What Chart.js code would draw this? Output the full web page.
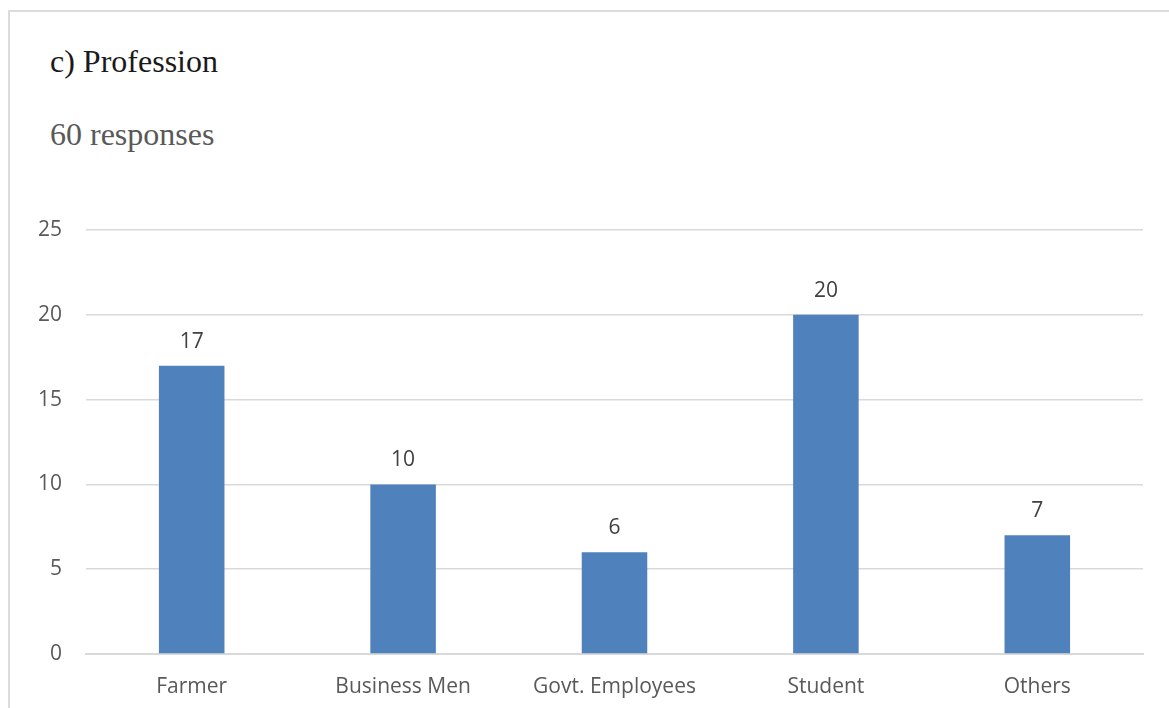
<!DOCTYPE html>
<html>
<head>
<meta charset="utf-8">
<script src="https://cdn.jsdelivr.net/npm/chart.js@4"></script>
<style>
  html, body { margin: 0; padding: 0; background: #fff; width: 1169px; height: 708px; overflow: hidden; }
  #frame { position: absolute; left: 8px; top: 10px; width: 1161px; height: 698px;
           border-top: 2px solid #dcdcdc; border-left: 2px solid #dcdcdc; box-sizing: border-box; }
  .t { position: absolute; left: 50px; font-family: "Liberation Serif", "Times New Roman", serif; white-space: nowrap; line-height: 1.15; }
  #title { top: 43px; font-size: 32px; color: #1a1a1a; }
  #sub { top: 116px; font-size: 32px; color: #595959; }
  #wrap { position: absolute; left: 0; top: 0; width: 1169px; height: 708px; }
</style>
</head>
<body>
<div id="frame"></div>
<div class="t" id="title">c) Profession</div>
<div class="t" id="sub">60 responses</div>
<div id="wrap"><canvas id="c" width="1169" height="708"></canvas></div>
<script>
const categories = ["Farmer", "Business Men", "Govt. Employees", "Student", "Others"];
const responses = [17, 10, 6, 20, 7];
const yTicks = [0, 5, 10, 15, 20, 25];

const FONT = "'Open Sans', Lato, 'Liberation Sans', sans-serif";

const valueLabels = {
  id: 'valueLabels',
  afterDatasetsDraw(chart) {
    const ctx = chart.ctx;
    const meta = chart.getDatasetMeta(0);
    ctx.save();
    ctx.font = "21px " + FONT;
    ctx.fillStyle = "#404040";
    ctx.textAlign = "center";
    ctx.textBaseline = "middle";
    meta.data.forEach((bar, i) => {
      ctx.fillText(String(chart.data.datasets[0].data[i]), bar.x, bar.y - 24);
    });
    ctx.restore();
  }
};

new Chart(document.getElementById('c'), {
  type: 'bar',
  data: {
    labels: categories,
    datasets: [{
      data: responses,
      backgroundColor: '#4F81BD',
      borderWidth: 0,
      categoryPercentage: 1,
      barPercentage: 0.31
    }]
  },
  options: {
    responsive: false,
    animation: false,
    devicePixelRatio: 1,
    layout: { padding: { left: 0, right: 26, top: 230, bottom: 0 } },
    plugins: { legend: { display: false }, tooltip: { enabled: false }, title: { display: false } },
    scales: {
      x: {
        grid: { display: false, drawTicks: false },
        border: { display: true, color: '#d9d9d9', width: 2 },
        ticks: { color: '#595959', font: { family: FONT, size: 21 }, padding: 20 },
        afterFit(s) { s.height = 54; }
      },
      y: {
        min: 0, max: 25,
        afterBuildTicks(s) { s.ticks = yTicks.map(v => ({ value: v })); },
        grid: { color: '#d9d9d9', lineWidth: 1.5, drawTicks: false },
        border: { display: false },
        ticks: { color: '#595959', font: { family: FONT, size: 21 }, padding: 24 },
        afterFit(s) { s.width = 86; }
      }
    }
  },
  plugins: [valueLabels]
});
</script>
</body>
</html>
